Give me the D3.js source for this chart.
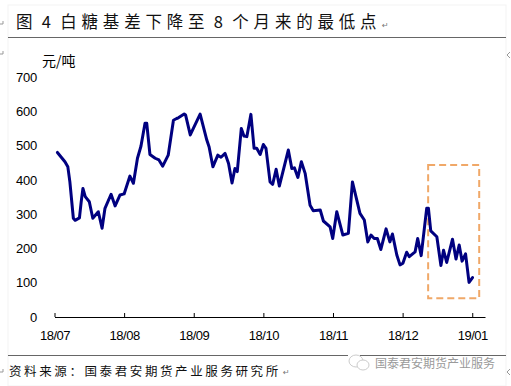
<!DOCTYPE html>
<html>
<head>
<meta charset="utf-8">
<script src="https://cdn.jsdelivr.net/npm/d3@7"></script>
<style>
    html, body { margin: 0; padding: 0; background: #fff; }
    svg { display: block; }
</style>
</head>
<body>
<svg id="chart" width="511" height="386"></svg>
<script>
// trading days counted from 18/07, 24 days between the month labels
var days = [1, 3.6, 4.6, 5.3, 6.5, 7.1, 8.6, 9.2, 9.8, 10.6, 12, 13.2, 15.1, 16.4, 17.4, 19.5, 20.9, 22.6, 24, 26,
    27.2, 28.6, 29.8, 31.2, 31.8, 32.9, 34.7, 36, 37.3, 39.2, 41, 42.1, 42.7, 44.7, 45.2, 46.8, 50.2, 52.5, 53.3, 54.6,
    56.3, 57.4, 58.8, 60, 61.2, 62.2, 63, 64.4, 65.3, 66.3, 67.7, 68.8, 69.7, 70.9, 72, 72.9, 74.3, 75.2, 76.4, 77.5,
    80.6, 81.8, 82.7, 83.9, 85.1, 86.4, 88.1, 89.2, 91.6, 92.7, 95, 95.9, 97.3, 99.4, 101.3, 102.7, 105.3, 106.8, 108, 109.1,
    110.2, 111.3, 112.5, 114.3, 115.6, 116.5, 118, 119.1, 120.1, 121.4, 122.3, 124.3, 125.2, 126.4, 128.3, 128.9, 129.7, 131.8, 133.2, 134.1,
    135.2, 137.2, 138.4, 139.5, 140.5, 141.7, 142.9, 144.1];
var basis = [480, 453, 438, 394, 288, 282, 289, 336, 375, 351, 336, 288, 307, 259, 317, 358, 324, 356, 359, 411,
    390, 463, 498, 565, 565, 474, 463, 458, 440, 472, 574, 579, 581, 592, 589, 531, 592, 516, 496, 438,
    472, 466, 477, 448, 391, 433, 424, 550, 528, 526, 591, 492, 492, 474, 503, 492, 394, 387, 431, 382,
    487, 433, 435, 407, 453, 419, 326, 310, 312, 280, 263, 229, 307, 239, 244, 394, 302, 283, 219, 239,
    229, 229, 197, 257, 219, 242, 181, 152, 157, 189, 176, 190, 229, 179, 317, 317, 251, 234, 150, 195,
    159, 227, 169, 210, 163, 184, 101, 115];

var monthTicks = [0, 24, 48, 72, 96, 120, 144];
var monthLabels = ["18/07", "18/08", "18/09", "18/10", "18/11", "18/12", "19/01"];
var valueTicks = [0, 100, 200, 300, 400, 500, 600, 700];

// the dashed box around the last weeks
var boxDays = [128.8, 146.4];
var boxBasis = [55, 443];

var titleText = "图 4 白糖基差下降至 8 个月来的最低点";
var unitText = "元/吨";
var sourceText = "资料来源：国泰君安期货产业服务研究所";
var markText = "国泰君安期货产业服务";

var cjk = "'Noto Sans CJK SC', 'Noto Sans', sans-serif";
var latin = "'Liberation Sans', Arial, sans-serif";

var svg = d3.select("#chart");

var x = d3.scaleLinear().domain([0, 148.4]).range([54.5, 485]);
var y = d3.scaleLinear().domain([0, 700]).range([317, 77]);

// faint page edge of the pasted document
svg.append("rect")
    .attr("x", 8).attr("y", 5).attr("width", 498).attr("height", 381)
    .attr("fill", "none").attr("stroke", "#f3f3f3");

// little word processor marks at the page edges
var edgeMarks = ["M0,24H3V21", "M0,54H3V51", "M0,372H3V369", "M510,52L507,55L510,58", "M510,369L507,372L510,375"];
svg.selectAll(".edge")
    .data(edgeMarks)
    .enter().append("path")
    .attr("class", "edge")
    .attr("d", function (d) { return d; })
    .attr("fill", "none")
    .attr("stroke", "#999");

// title and rules
svg.append("text")
    .attr("x", 16).attr("y", 28)
    .style("font-family", cjk).style("font-size", "16.5px")
    .style("letter-spacing", "4.8px").style("word-spacing", "-4px")
    .attr("fill", "#111")
    .text(titleText);
svg.append("text")
    .attr("x", 382).attr("y", 28)
    .style("font-family", "'DejaVu Sans'").style("font-size", "8px")
    .attr("fill", "#777").text("↵");

svg.append("line").attr("x1", 8).attr("x2", 506).attr("y1", 37.5).attr("y2", 37.5).attr("stroke", "#666");
svg.append("line").attr("x1", 8).attr("x2", 506).attr("y1", 355.5).attr("y2", 355.5).attr("stroke", "#666");

// x axis
var xAxis = svg.append("g")
    .attr("transform", "translate(0,317)")
    .call(d3.axisBottom(x)
        .tickValues(monthTicks)
        .tickFormat(function (d, i) { return monthLabels[i]; })
        .tickSizeInner(-4)
        .tickSizeOuter(0));
xAxis.select(".domain").attr("stroke", "#000").attr("stroke-width", 1.2);
xAxis.selectAll(".tick line").attr("stroke", "#000");
xAxis.selectAll("text")
    .attr("y", 14).attr("dy", "0.71em")
    .style("font-family", latin).style("font-size", "13px").style("letter-spacing", "-0.5px")
    .attr("fill", "#000");

// y axis, labels only
var yAxis = svg.append("g")
    .attr("transform", "translate(37,0)")
    .call(d3.axisLeft(y).tickValues(valueTicks).tickSize(0).tickPadding(0));
yAxis.select(".domain").remove();
yAxis.selectAll("text")
    .style("font-family", latin).style("font-size", "13px").style("letter-spacing", "-0.2px")
    .attr("fill", "#000");

svg.append("text")
    .attr("x", 42).attr("y", 66)
    .style("font-family", cjk).style("font-size", "14px")
    .attr("fill", "#000")
    .text(unitText);

// dashed box
svg.append("rect")
    .attr("x", x(boxDays[0])).attr("y", y(boxBasis[1]))
    .attr("width", x(boxDays[1]) - x(boxDays[0]))
    .attr("height", y(boxBasis[0]) - y(boxBasis[1]))
    .attr("fill", "none")
    .attr("stroke", "#f0a868").attr("stroke-width", 2).attr("stroke-dasharray", "7,4");

// basis line
var line = d3.line()
    .x(function (d, i) { return x(days[i]); })
    .y(function (d) { return y(d); });

svg.append("path")
    .datum(basis)
    .attr("d", line)
    .attr("fill", "none")
    .attr("stroke", "#000080")
    .attr("stroke-width", 3)
    .attr("stroke-linejoin", "round")
    .attr("stroke-linecap", "round");

// source line
svg.append("text")
    .attr("x", 9).attr("y", 376)
    .style("font-family", cjk).style("font-size", "12.5px").style("letter-spacing", "2.6px")
    .attr("fill", "#111")
    .text(sourceText);
svg.append("text")
    .attr("x", 283).attr("y", 375)
    .style("font-family", "'DejaVu Sans'").style("font-size", "8px")
    .attr("fill", "#777").text("↵");

// wechat mark over the bottom rule
svg.append("rect").attr("x", 348).attr("y", 353).attr("width", 12).attr("height", 4).attr("fill", "#fff");
svg.append("ellipse").attr("cx", 356).attr("cy", 361).attr("rx", 7).attr("ry", 6)
    .attr("fill", "#fff").attr("stroke", "#ccc");
svg.append("ellipse").attr("cx", 363).attr("cy", 365).attr("rx", 6).attr("ry", 5)
    .attr("fill", "#fff").attr("stroke", "#ccc");
svg.append("text")
    .attr("x", 375).attr("y", 368)
    .style("font-family", cjk).style("font-size", "12px")
    .attr("fill", "#9a9a9a")
    .text(markText);
</script>
</body>
</html>
